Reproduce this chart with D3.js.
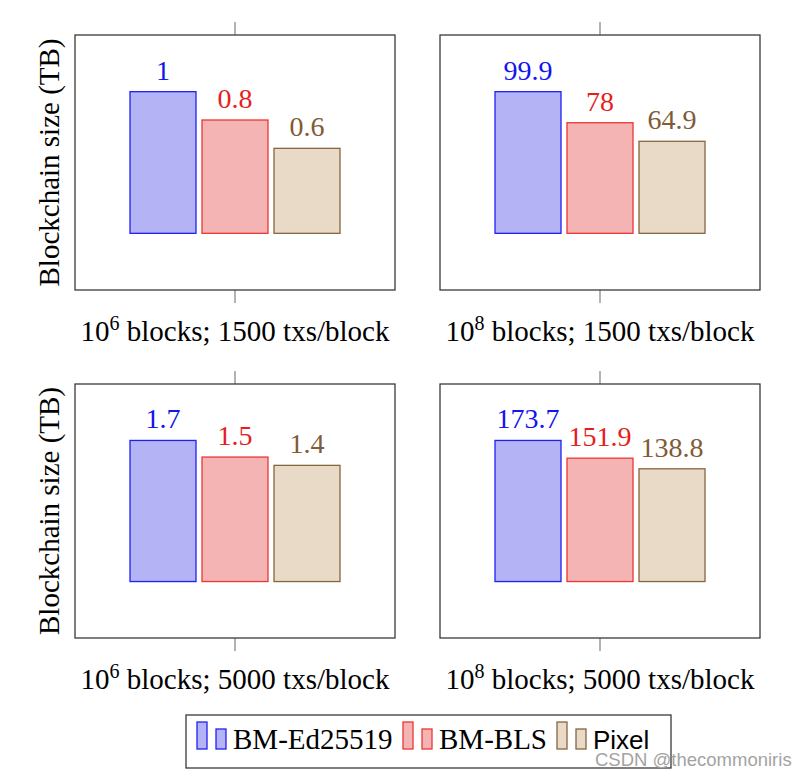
<!DOCTYPE html>
<html>
<head>
<meta charset="utf-8">
<script src="https://cdn.jsdelivr.net/npm/d3@7"></script>
<style>
  html, body { margin: 0; padding: 0; background: #fff; }
  svg { display: block; }
</style>
</head>
<body>
<svg id="chart" width="803" height="777"></svg>
<script>
// ---- data ----
const seriesNames = ["BM-Ed25519", "BM-BLS", "Pixel"];
const blockExponents = ["6", "8", "6", "8"];
const txsPerBlock = ["1500", "1500", "5000", "5000"];
const edValues = [1, 99.9, 1.7, 173.7];
const blsValues = [0.8, 78, 1.5, 151.9];
const pixelValues = [0.6, 64.9, 1.4, 138.8];
const yAxisLabel = "Blockchain size (TB)";
const watermark = "CSDN @thecommoniris";

// ---- styles ----
const fills = ["#b3b3f6", "#f4b4b4", "#e8dac6"];
const strokes = ["#2020f4", "#ee3535", "#86663f"];
const labelColors = ["#1414ee", "#e61e1e", "#7f5b37"];
const serif = "'Liberation Serif', 'Times New Roman', serif";
const sans = "'Liberation Sans', Arial, sans-serif";

const svg = d3.select("#chart");

const colX = [[75, 395], [440, 760]];
const rowY = [[35, 290], [384, 638]];

const valuesBySeries = [edValues, blsValues, pixelValues];

for (let p = 0; p < 4; p++) {
  const [x0, x1] = colX[p % 2];
  const [y0, y1] = rowY[Math.floor(p / 2)];
  const vals = valuesBySeries.map(s => s[p]);
  const maxV = d3.max(vals);
  const catName = "p" + p;

  const xCat = d3.scaleBand().domain([catName]).range([x0, x1]);
  const cx = xCat(catName) + xCat.bandwidth() / 2;
  const xSeries = d3.scaleBand().domain(seriesNames)
    .range([cx - 105, cx + 105]).paddingInner(6 / 72).paddingOuter(0);
  const y = d3.scaleLinear().domain([-0.4 * maxV, 1.4 * maxV]).range([y1, y0]);

  const g = svg.append("g");

  // ticks outside frame (top and bottom)
  const tickTop = g.append("g").attr("transform", `translate(0,${y0})`)
    .call(d3.axisTop(xCat).tickSize(13).tickFormat(""));
  const tickBot = g.append("g").attr("transform", `translate(0,${y1})`)
    .call(d3.axisBottom(xCat).tickSize(13).tickFormat(""));
  [tickTop, tickBot].forEach(a => {
    a.select(".domain").remove();
    a.selectAll("line").attr("stroke", "#8a8a8a").attr("stroke-width", 1.3);
  });

  // frame
  g.append("rect").attr("x", x0).attr("y", y0)
    .attr("width", x1 - x0).attr("height", y1 - y0)
    .attr("fill", "none").attr("stroke", "#3a3a3a").attr("stroke-width", 1.3);

  // bars
  g.selectAll("rect.bar").data(seriesNames).enter().append("rect")
    .attr("class", "bar")
    .attr("x", d => xSeries(d))
    .attr("width", xSeries.bandwidth())
    .attr("y", (d, i) => y(vals[i]))
    .attr("height", (d, i) => y(0) - y(vals[i]))
    .attr("fill", (d, i) => fills[i])
    .attr("stroke", (d, i) => strokes[i])
    .attr("stroke-width", 1.3);

  // value labels
  g.selectAll("text.val").data(seriesNames).enter().append("text")
    .attr("class", "val")
    .attr("x", d => xSeries(d) + xSeries.bandwidth() / 2)
    .attr("y", (d, i) => y(vals[i]) - 12)
    .attr("text-anchor", "middle")
    .attr("font-family", serif).attr("font-size", 28)
    .attr("fill", (d, i) => labelColors[i])
    .text((d, i) => String(vals[i]));

  // x label
  const xl = g.append("text")
    .attr("x", cx).attr("y", y1 + 51)
    .attr("text-anchor", "middle")
    .attr("font-family", serif).attr("font-size", 29).attr("fill", "#000");
  xl.append("tspan").text("10");
  xl.append("tspan").attr("dy", -11).attr("font-size", 20).text(blockExponents[p]);
  xl.append("tspan").attr("dy", 11).text(" blocks; " + txsPerBlock[p] + " txs/block");

  // y label (left column only)
  if (p % 2 === 0) {
    g.append("text")
      .attr("transform", `translate(59,${(y0 + y1) / 2}) rotate(-90)`)
      .attr("text-anchor", "middle")
      .attr("font-family", serif).attr("font-size", 29).attr("fill", "#000")
      .text(yAxisLabel);
  }
}

// ---- legend ----
const lg = svg.append("g");
lg.append("rect").attr("x", 186).attr("y", 715).attr("width", 485).attr("height", 53)
  .attr("fill", "#fff").attr("stroke", "#3a3a3a").attr("stroke-width", 1.3);
const legendX = [197, 403, 557];
const legendFonts = [serif, serif, sans];
const legendSizes = [29, 29, 26];
seriesNames.forEach((name, i) => {
  const lx = legendX[i];
  lg.append("rect").attr("x", lx).attr("y", 722).attr("width", 10).attr("height", 27)
    .attr("fill", fills[i]).attr("stroke", strokes[i]).attr("stroke-width", 1.3);
  lg.append("rect").attr("x", lx + 19).attr("y", 729).attr("width", 10).attr("height", 20)
    .attr("fill", fills[i]).attr("stroke", strokes[i]).attr("stroke-width", 1.3);
  lg.append("text").attr("x", lx + 36).attr("y", 749)
    .attr("font-family", legendFonts[i]).attr("font-size", legendSizes[i])
    .attr("fill", "#000").text(name);
});

// ---- watermark ----
svg.append("text").attr("x", 595).attr("y", 766)
  .attr("font-family", sans).attr("font-size", 18.5).attr("fill", "#a3a3a3")
  .text(watermark);
</script>
</body>
</html>
